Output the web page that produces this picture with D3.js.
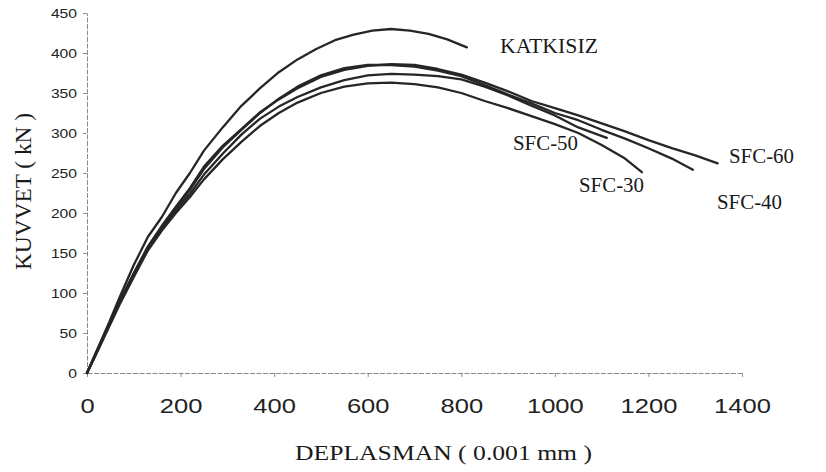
<!DOCTYPE html>
<html>
<head>
<meta charset="utf-8">
<script src="https://cdn.jsdelivr.net/npm/d3@7"></script>
<style>
  body { margin: 0; background: #fff; }
  svg { display: block; }
</style>
</head>
<body>
<div id="chart"></div>
<script>
// load - displacement readings (x: 0.001 mm, y: kN)
var katkisizX = [0, 20, 45, 70, 100, 130, 160, 190, 220, 250, 290, 330, 370, 410, 450, 490, 530, 570, 610, 650, 690, 730, 770, 812];
var katkisizY = [0, 27, 60, 95, 135, 170, 195, 225, 250, 278, 307, 334, 356, 376, 392, 405, 416, 423, 428, 430, 428, 424, 417, 407];

var sfc60X = [0, 20, 45, 70, 100, 130, 160, 190, 220, 250, 290, 330, 370, 410, 450, 500, 550, 600, 650, 700, 750, 800, 850, 900, 950, 1000, 1050, 1100, 1150, 1200, 1250, 1300, 1348];
var sfc60Y = [0, 26, 58, 90, 125, 158, 184, 208, 231, 258, 284, 305, 326, 342, 356, 370, 379, 384, 386, 385, 380, 373, 363, 352, 340, 331, 322, 312, 302, 291, 281, 272, 262];

var sfc40X = [0, 20, 45, 70, 100, 130, 160, 190, 220, 250, 290, 330, 370, 410, 450, 500, 550, 600, 650, 700, 750, 800, 850, 900, 950, 1000, 1050, 1100, 1150, 1200, 1250, 1295];
var sfc40Y = [0, 25, 57, 89, 124, 157, 182, 206, 229, 255, 282, 304, 325, 343, 358, 372, 381, 385, 385, 383, 378, 371, 360, 348, 337, 325, 316, 304, 293, 281, 268, 254];

var sfc50X = [0, 20, 45, 70, 100, 130, 160, 190, 220, 250, 290, 330, 370, 410, 450, 500, 550, 600, 650, 700, 750, 800, 850, 900, 950, 1000, 1050, 1111];
var sfc50Y = [0, 25, 57, 88, 122, 156, 180, 203, 224, 248, 274, 298, 318, 333, 345, 357, 366, 372, 374, 373, 371, 367, 358, 347, 334, 322, 307, 294];

var sfc30X = [0, 20, 45, 70, 100, 130, 160, 190, 220, 250, 290, 330, 370, 410, 450, 500, 550, 600, 650, 700, 750, 800, 850, 900, 950, 1000, 1050, 1100, 1150, 1186];
var sfc30Y = [0, 24, 55, 86, 120, 153, 178, 200, 220, 242, 267, 289, 309, 325, 338, 350, 358, 362, 363, 361, 357, 350, 340, 331, 321, 311, 300, 285, 268, 251];

var xTicks = [0, 200, 400, 600, 800, 1000, 1200, 1400];
var yTicks = [0, 50, 100, 150, 200, 250, 300, 350, 400, 450];

var seriesNames = ["KATKISIZ", "SFC-60", "SFC-40", "SFC-50", "SFC-30"];

(function () {
    var width = 826, height = 472;

    var svg = d3.select("#chart").append("svg")
        .attr("width", width).attr("height", height);

    var x = d3.scaleLinear().domain([0, 1400]).range([87, 742]);
    var y = d3.scaleLinear().domain([0, 450]).range([373, 13]);

    var series = [
        { name: seriesNames[0], xs: katkisizX, ys: katkisizY },
        { name: seriesNames[1], xs: sfc60X, ys: sfc60Y },
        { name: seriesNames[2], xs: sfc40X, ys: sfc40Y },
        { name: seriesNames[3], xs: sfc50X, ys: sfc50Y },
        { name: seriesNames[4], xs: sfc30X, ys: sfc30Y }
    ];

    // axes
    var yAxis = svg.append("g")
        .attr("transform", "translate(" + x(0) + ",0)")
        .call(d3.axisLeft(y).tickValues(yTicks).tickFormat(d3.format("d"))
            .tickSize(4).tickPadding(6).tickSizeOuter(0));

    var xAxis = svg.append("g")
        .attr("transform", "translate(0," + y(0) + ")")
        .call(d3.axisBottom(x).tickValues(xTicks).tickFormat(d3.format("d"))
            .tickSize(4).tickPadding(22).tickSizeOuter(0));

    [xAxis, yAxis].forEach(function (g) {
        g.select(".domain").attr("stroke", "#8a8a8a").attr("stroke-width", 1).attr("stroke-dasharray", "5,1.5");
        g.selectAll(".tick line").attr("stroke", "#777").attr("stroke-width", 0.8);
    });

    yAxis.selectAll(".tick text")
        .attr("font-family", "'Liberation Sans', Arial, sans-serif")
        .attr("font-size", 13)
        .attr("fill", "#222")
        .attr("textLength", function (d) { return String(d).length * 8.7; })
        .attr("lengthAdjust", "spacingAndGlyphs");

    xAxis.selectAll(".tick text")
        .attr("font-family", "'Liberation Sans', Arial, sans-serif")
        .attr("font-size", 20)
        .attr("fill", "#222")
        .attr("textLength", function (d) { return String(d).length * 14.2; })
        .attr("lengthAdjust", "spacingAndGlyphs");

    // curves
    var line = d3.line()
        .x(function (d) { return x(d[0]); })
        .y(function (d) { return y(d[1]); });

    svg.append("g").selectAll("path")
        .data(series)
        .enter().append("path")
        .attr("d", function (s) { return line(d3.zip(s.xs, s.ys)); })
        .attr("fill", "none")
        .attr("stroke", "#262626")
        .attr("stroke-width", 2.3)
        .attr("stroke-linejoin", "round")
        .attr("stroke-linecap", "round");

    // series labels
    var labels = [
        { t: seriesNames[0], px: 500, py: 53, w: 98 },
        { t: seriesNames[3], px: 513, py: 150, w: 65 },
        { t: seriesNames[4], px: 579, py: 192, w: 65 },
        { t: seriesNames[1], px: 729, py: 163, w: 65 },
        { t: seriesNames[2], px: 717, py: 209, w: 65 }
    ];
    svg.append("g").selectAll("text")
        .data(labels)
        .enter().append("text")
        .attr("x", function (d) { return d.px; })
        .attr("y", function (d) { return d.py; })
        .attr("font-family", "'Liberation Serif', 'Times New Roman', serif")
        .attr("font-size", 21)
        .attr("fill", "#1a1a1a")
        .attr("textLength", function (d) { return d.w; })
        .attr("lengthAdjust", "spacingAndGlyphs")
        .text(function (d) { return d.t; });

    // axis titles
    svg.append("text")
        .attr("x", 295).attr("y", 460)
        .attr("font-family", "'Liberation Serif', 'Times New Roman', serif")
        .attr("font-size", 20)
        .attr("fill", "#1a1a1a")
        .attr("textLength", 297)
        .attr("lengthAdjust", "spacingAndGlyphs")
        .text("DEPLASMAN ( 0.001 mm )");

    svg.append("text")
        .attr("transform", "translate(31,270) rotate(-90)")
        .attr("font-family", "'Liberation Serif', 'Times New Roman', serif")
        .attr("font-size", 23)
        .attr("fill", "#1a1a1a")
        .attr("textLength", 157)
        .attr("lengthAdjust", "spacingAndGlyphs")
        .text("KUVVET ( kN )");
}());
</script>
</body>
</html>
